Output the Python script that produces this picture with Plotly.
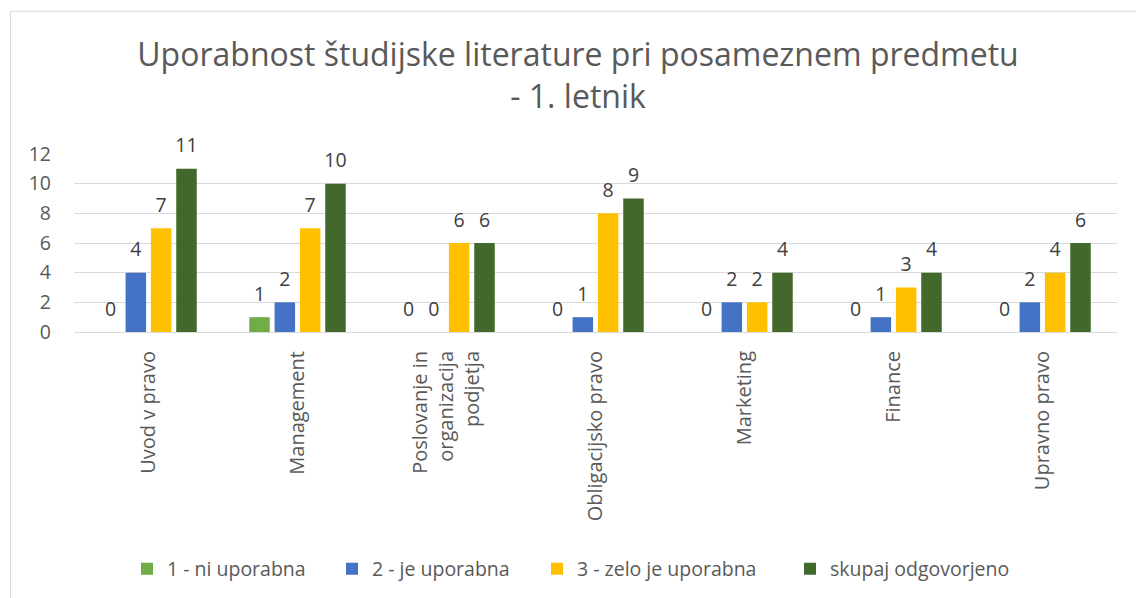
import plotly.graph_objects as go

categories = ["Uvod v pravo", "Management", "Poslovanje in<br>organizacija<br>podjetja",
              "Obligacijsko pravo", "Marketing", "Finance", "Upravno pravo"]
series_names = ["1 - ni uporabna", "2 - je uporabna", "3 - zelo je uporabna", "skupaj odgovorjeno"]
s1 = [0, 1, 0, 0, 0, 0, 0]
s2 = [4, 2, 0, 1, 2, 1, 2]
s3 = [7, 7, 6, 8, 2, 3, 4]
s4 = [11, 10, 6, 9, 4, 4, 6]
colors = ["#70AD47", "#4472C4", "#FFC000", "#43682B"]
y_ticks = [0, 2, 4, 6, 8, 10, 12]

FONT = "Open Sans"
TXT = "#595959"
LBL = "#404040"

W, H = 1136, 598
L, R, T, B = 74, 19, 154, 265
pw = W - L - R
ph = H - T - B
GAP = 0.32

legend_ids = ["legend", "legend2", "legend3", "legend4"]
legend_text_x = [167, 372, 577, 830]

fig = go.Figure()
data = [s1, s2, s3, s4]
for i, (name, vals, col) in enumerate(zip(series_names, data, colors)):
    fig.add_trace(go.Bar(
        x=categories, y=vals, name=name, marker=dict(color=col, line=dict(width=0)),
        legend=legend_ids[i], offsetgroup=f"g{i}", alignmentgroup="a",
    ))
for i, vals in enumerate(data):
    fig.add_trace(go.Scatter(
        x=categories, y=vals, mode="markers+text", text=[str(v) for v in vals],
        textposition="top center", offsetgroup=f"g{i}", alignmentgroup="a",
        showlegend=False,
        marker=dict(size=17, opacity=0, color="white"), cliponaxis=False,
        textfont=dict(family=FONT, size=19.5, color=LBL), hoverinfo="skip",
    ))

legends = {}
for i, lid in enumerate(legend_ids):
    legends[lid] = dict(orientation="h", xref="paper", yref="paper",
                        x=(legend_text_x[i] - 40 - L) / pw, xanchor="left",
                        y=-(569 - (T + ph)) / ph, yanchor="middle",
                        bgcolor="rgba(0,0,0,0)",
                        font=dict(family=FONT, size=19.5, color=TXT))

fig.update_layout(
    width=W, height=H,
    margin=dict(l=L, r=R, t=T, b=B),
    paper_bgcolor="white", plot_bgcolor="white",
    barmode="group", bargap=GAP, bargroupgap=0.19,
    scattermode="group", scattergap=GAP,
    font=dict(family=FONT, color=TXT),
    title=dict(text="Uporabnost študijske literature pri posameznem predmetu<br>- 1. letnik",
               x=578 / W, xref="container", xanchor="center",
               y=1 - 66 / H, yref="container", yanchor="top",
               font=dict(family=FONT, size=32, color=TXT)),
    yaxis=dict(range=[0, 12], tickvals=y_ticks, showgrid=True, gridcolor="#D9D9D9",
               gridwidth=1, zeroline=False, showline=False,
               tickfont=dict(family=FONT, size=19.5, color=TXT), ticklabelstandoff=22),
    xaxis=dict(showline=True, linecolor="#D9D9D9", linewidth=1, tickangle=-90,
               tickfont=dict(family=FONT, size=20, color=TXT), ticks="",
               ticklabelstandoff=10),
    showlegend=True,
    **legends,
)
# chart border
fig.add_shape(type="rect", xref="paper", yref="paper",
              x0=(10.5 - L) / pw, x1=(1300 - L) / pw,
              y0=-(800 - (T + ph)) / ph, y1=1 + (T - 10.5) / ph,
              line=dict(color="#D9D9D9", width=1), fillcolor="rgba(0,0,0,0)", layer="below")
fig.write_html("out.html", config={"displayModeBar": False},
               post_script="document.body.style.margin='0px';")
